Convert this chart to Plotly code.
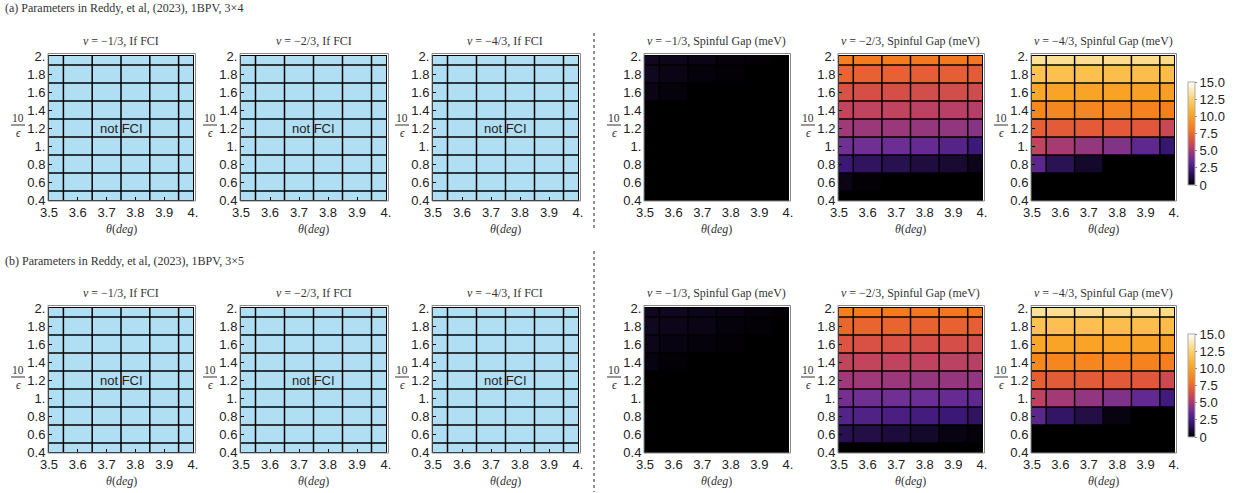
import plotly.graph_objects as go

# ---------------- data ----------------
theta = [3.5, 3.6, 3.7, 3.8, 3.9, 4.0]
inv_eps = [0.4, 0.6, 0.8, 1.0, 1.2, 1.4, 1.6, 1.8, 2.0]
theta_ticklabels = ["3.5", "3.6", "3.7", "3.8", "3.9", "4."]
eps_ticklabels = ["0.4", "0.6", "0.8", "1.", "1.2", "1.4", "1.6", "1.8", "2."]
cbar_vals = [0, 2.5, 5.0, 7.5, 10.0, 12.5, 15.0]
cbar_labels = ["0", "2.5", "5.0", "7.5", "10.0", "12.5", "15.0"]

row_titles = ["(a) Parameters in Reddy, et al, (2023), 1BPV, 3×4",
              "(b) Parameters in Reddy, et al, (2023), 1BPV, 3×5"]
nu_labels = ["−1/3", "−2/3", "−4/3"]

# FCI flag (0 = not FCI), rows from 10/eps=0.4 (bottom) to 2.0 (top)
fci_flag = [[0] * 6 for _ in range(9)]

# Spinful gap (meV), rows from 10/eps = 0.4 to 2.0, columns theta 3.5..4.0
gap_a_13 = [
    [0, 0, 0, 0, 0, 0],
    [0, 0, 0, 0, 0, 0],
    [0, 0, 0, 0, 0, 0],
    [0, 0, 0, 0, 0, 0],
    [0, 0, 0, 0, 0, 0],
    [0, 0, 0, 0, 0, 0],
    [0.4, 0.2, 0, 0, 0, 0],
    [0.6, 0.4, 0.2, 0.1, 0, 0],
    [0.6, 0.5, 0.4, 0.2, 0.1, 0],
]
gap_a_23 = [
    [0, 0, 0, 0, 0, 0],
    [0.4, 0.1, 0, 0, 0, 0],
    [2.2, 1.8, 1.5, 1.2, 0.9, 0.5],
    [3.9, 3.9, 3.8, 3.6, 3.1, 2.3],
    [4.9, 4.8, 4.8, 4.7, 4.6, 4.4],
    [5.8, 5.7, 5.7, 5.6, 5.5, 5.4],
    [6.5, 6.4, 6.4, 6.3, 6.3, 6.2],
    [7.3, 7.2, 7.2, 7.1, 7.1, 7.0],
    [8.3, 8.2, 8.2, 8.1, 8.1, 8.0],
]
gap_a_43 = [
    [0, 0, 0, 0, 0, 0],
    [0, 0, 0, 0, 0, 0],
    [3.3, 1.6, 0.8, 0, 0, 0],
    [5.7, 5.1, 4.7, 4.3, 3.4, 2.1],
    [7.1, 7.0, 7.0, 6.9, 6.8, 6.0],
    [8.8, 8.7, 8.7, 8.6, 8.5, 8.3],
    [10.3, 10.2, 10.2, 10.1, 10.0, 9.9],
    [11.7, 11.6, 11.6, 11.5, 11.5, 11.4],
    [13.3, 13.2, 13.2, 13.1, 13.1, 13.0],
]
gap_b_13 = [
    [0, 0, 0, 0, 0, 0],
    [0, 0, 0, 0, 0, 0],
    [0, 0, 0, 0, 0, 0],
    [0, 0, 0, 0, 0, 0],
    [0, 0, 0, 0, 0, 0],
    [0.3, 0.1, 0, 0, 0, 0],
    [0.5, 0.3, 0.2, 0.1, 0, 0],
    [0.6, 0.5, 0.4, 0.2, 0.1, 0],
    [0.6, 0.6, 0.5, 0.4, 0.2, 0.1],
]
gap_b_23 = [
    [0, 0, 0, 0, 0, 0],
    [1.5, 1.3, 1.1, 0.8, 0.3, 0.2],
    [3.0, 2.9, 2.7, 2.5, 2.2, 1.8],
    [4.0, 3.9, 3.9, 3.8, 3.6, 3.4],
    [4.9, 4.9, 4.8, 4.7, 4.7, 4.6],
    [5.8, 5.8, 5.7, 5.7, 5.6, 5.5],
    [6.6, 6.5, 6.5, 6.4, 6.4, 6.3],
    [7.4, 7.3, 7.3, 7.2, 7.2, 7.1],
    [8.3, 8.2, 8.2, 8.1, 8.1, 8.0],
]
gap_b_43 = [
    [0, 0, 0, 0, 0, 0],
    [0, 0, 0, 0, 0, 0],
    [3.3, 1.9, 1.3, 0.3, 0, 0],
    [5.6, 5.0, 4.6, 4.2, 3.5, 2.4],
    [7.1, 7.0, 7.0, 6.9, 6.8, 6.1],
    [8.8, 8.7, 8.7, 8.6, 8.5, 8.3],
    [10.3, 10.2, 10.2, 10.1, 10.0, 9.9],
    [11.7, 11.6, 11.6, 11.5, 11.5, 11.4],
    [13.3, 13.2, 13.2, 13.1, 13.1, 13.0],
]
gaps = [[gap_a_13, gap_a_23, gap_a_43], [gap_b_13, gap_b_23, gap_b_43]]

# ---------------- style ----------------
W, H = 1242, 493
FCI_BLUE = "#b0dff3"
sunset = [[0.0, "#000000"], [0.15, "rgb(60,25,120)"], [0.25, "rgb(105,45,150)"],
          [0.35, "rgb(175,60,110)"], [0.45, "rgb(225,85,60)"], [0.55, "rgb(245,125,30)"],
          [0.7, "rgb(250,170,40)"], [0.85, "rgb(253,215,120)"], [1.0, "#ffffff"]]
SANS = "Liberation Sans, Arial, sans-serif"
SERIF = "Liberation Serif, DejaVu Serif, serif"

panel_left = [49, 241, 433, 645, 839, 1032]
panel_right = [193, 386, 578, 788, 982, 1174]
row_top = [56, 308]
row_bot = [200, 452]


def fx(p):
    return p / W


def fy(p):
    return 1 - p / H


fig = go.Figure()
layout = {}
annotations = []
shapes = []

xmid = [(theta[i] + theta[i + 1]) / 2 for i in range(len(theta) - 1)]
ymid = [(inv_eps[i] + inv_eps[i + 1]) / 2 for i in range(len(inv_eps) - 1)]

for r in range(2):
    annotations.append(dict(x=fx(3), y=fy(8 if r == 0 else 261), xref="paper", yref="paper",
                            text=row_titles[r], showarrow=False, xanchor="left", yanchor="middle",
                            font=dict(family=SERIF, size=12, color="#333")))
    for c in range(6):
        idx = r * 6 + c + 1
        xa = "x" if idx == 1 else f"x{idx}"
        ya = "y" if idx == 1 else f"y{idx}"
        xl = "xaxis" if idx == 1 else f"xaxis{idx}"
        yl = "yaxis" if idx == 1 else f"yaxis{idx}"
        L, R = panel_left[c], panel_right[c]
        T, B = row_top[r], row_bot[r]
        if c < 3:
            fig.add_trace(go.Heatmap(x=theta, y=inv_eps, z=fci_flag, xaxis=xa, yaxis=ya,
                                     colorscale=[[0, FCI_BLUE], [1, FCI_BLUE]], showscale=False,
                                     zmin=0, zmax=1, hoverinfo="skip"))
            title = f"<i>ν</i> = {nu_labels[c]}, If FCI"
            annotations.append(dict(x=3.75, y=1.2, xref=xa, yref=ya, text="not FCI", showarrow=False,
                                    xanchor="center", yanchor="middle",
                                    font=dict(family=SANS, size=13, color="#222")))
        else:
            z = gaps[r][c - 3]
            tr = go.Heatmap(x=theta, y=inv_eps, z=z, xaxis=xa, yaxis=ya, colorscale=sunset,
                            zmin=0, zmax=15, showscale=(c == 5), hoverinfo="skip")
            if c == 5:
                cb_top = T + 26
                cb_bot = T + 129
                tr.colorbar = dict(x=fx(1188), xanchor="left", xpad=0, thickness=7,
                                   lenmode="fraction", len=(cb_bot - cb_top) / H,
                                   y=fy((cb_top + cb_bot) / 2), yanchor="middle", ypad=0,
                                   tickvals=cbar_vals, ticktext=cbar_labels,
                                   ticks="outside", ticklen=2, tickcolor="#888",
                                   outlinecolor="#aaa", outlinewidth=1,
                                   tickfont=dict(family=SANS, size=13, color="#222"))
            fig.add_trace(tr)
            title = f"<i>ν</i> = {nu_labels[c - 3]}, Spinful Gap (meV)"
        # mesh lines
        mx, my = [], []
        for xv in xmid:
            mx += [xv, xv, None]
            my += [inv_eps[0], inv_eps[-1], None]
        for yv in ymid:
            mx += [theta[0], theta[-1], None]
            my += [yv, yv, None]
        fig.add_trace(go.Scatter(x=mx, y=my, xaxis=xa, yaxis=ya, mode="lines",
                                 line=dict(color="black", width=1.5), hoverinfo="skip",
                                 showlegend=False))
        layout[xl] = dict(domain=[fx(L), fx(R)], anchor=ya, range=[theta[0], theta[-1]],
                          tickvals=theta, ticktext=theta_ticklabels, showgrid=False,
                          zeroline=False, showline=True, linecolor="black", linewidth=1,
                          mirror=True, ticks="inside", ticklen=3, tickcolor="black",
                          automargin=False,
                          tickfont=dict(family=SANS, size=13, color="#222"))
        layout[yl] = dict(domain=[fy(B), fy(T)], anchor=xa, range=[inv_eps[0], inv_eps[-1]],
                          tickvals=inv_eps, ticktext=eps_ticklabels, showgrid=False,
                          zeroline=False, showline=True, linecolor="black", linewidth=1,
                          mirror=True, ticks="inside", ticklen=3, tickcolor="black",
                          automargin=False,
                          tickfont=dict(family=SANS, size=13, color="#222"))
        # outer gray frame
        shapes.append(dict(type="rect", xref="paper", yref="paper", x0=fx(L - 1), x1=fx(R + 2.5),
                           y0=fy(B + 1), y1=fy(T - 2.5), line=dict(color="#888", width=1)))
        # panel title
        annotations.append(dict(x=fx((L + R) / 2), y=fy(T - 15), xref="paper", yref="paper",
                                text=title, showarrow=False, xanchor="center", yanchor="middle",
                                font=dict(family=SERIF, size=12, color="#333")))
        # x-axis title
        annotations.append(dict(x=fx((L + R) / 2), y=fy(B + 29), xref="paper", yref="paper",
                                text="<i>θ</i>(<i>deg</i>)", showarrow=False,
                                xanchor="center", yanchor="middle",
                                font=dict(family=SERIF, size=12, color="#333")))
        # y-axis title as fraction 10 / eps
        cx = L - 31
        cy = (T + B) / 2 - 3
        annotations.append(dict(x=fx(cx), y=fy(cy - 7), xref="paper", yref="paper", text="10",
                                showarrow=False, xanchor="center", yanchor="middle",
                                font=dict(family=SERIF, size=11.5, color="#333")))
        annotations.append(dict(x=fx(cx), y=fy(cy + 8), xref="paper", yref="paper", text="<i>ϵ</i>",
                                showarrow=False, xanchor="center", yanchor="middle",
                                font=dict(family=SERIF, size=11.5, color="#333")))
        shapes.append(dict(type="line", xref="paper", yref="paper", x0=fx(cx - 7), x1=fx(cx + 7),
                           y0=fy(cy), y1=fy(cy), line=dict(color="#333", width=1)))

# dotted separators
shapes.append(dict(type="line", xref="paper", yref="paper", x0=fx(594), x1=fx(594),
                   y0=fy(33), y1=fy(231), line=dict(color="#222", width=1, dash="dot")))
shapes.append(dict(type="line", xref="paper", yref="paper", x0=fx(594), x1=fx(594),
                   y0=fy(251), y1=fy(492), line=dict(color="#222", width=1, dash="dot")))

fig.update_layout(width=W, height=H, margin=dict(l=0, r=0, t=0, b=0),
                  paper_bgcolor="white", plot_bgcolor="white", showlegend=False,
                  annotations=annotations, shapes=shapes, **layout)
fig.write_html("out.html")
